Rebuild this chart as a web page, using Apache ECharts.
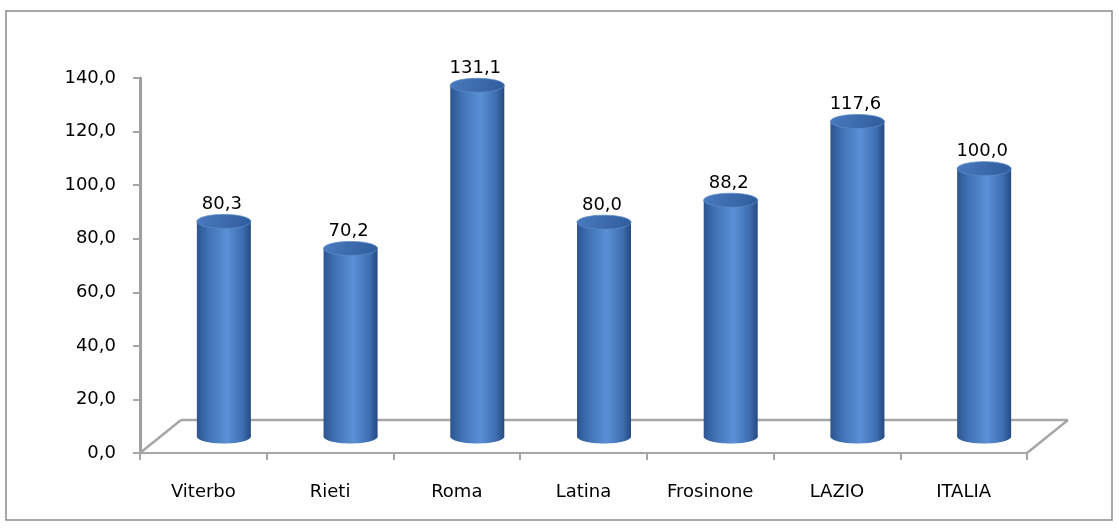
<!DOCTYPE html>
<html>
<head>
<meta charset="utf-8">
<script src="https://cdn.jsdelivr.net/npm/echarts@6/dist/echarts.min.js"></script>
<style>
  html, body { margin: 0; padding: 0; background: #fff; }
  #chart { width: 1119px; height: 529px; }
</style>
</head>
<body>
<div id="chart"></div>
<script>
const categories = ["Viterbo", "Rieti", "Roma", "Latina", "Frosinone", "LAZIO", "ITALIA"];
const values = [80.3, 70.2, 131.1, 80.0, 88.2, 117.6, 100.0];
const yTicks = [0, 20, 40, 60, 80, 100, 120, 140];

// finta profondità 3D (come nel grafico di Excel)
const depthX = 41;
const depthY = -33;
const barWidth = 54;
const capRy = 7;
const fontFamily = "'DejaVu Sans', sans-serif";
const fontSize = 18;

const fmt = (v) => v.toFixed(1).replace(".", ",");

const chart = echarts.init(document.getElementById("chart"));

const bodyGradient = new echarts.graphic.LinearGradient(0, 0, 1, 0, [
  { offset: 0, color: "#2c5590" },
  { offset: 0.2, color: "#3f70b3" },
  { offset: 0.55, color: "#5b90d6" },
  { offset: 0.85, color: "#3e6db0" },
  { offset: 1, color: "#254a80" },
]);
const topGradient = new echarts.graphic.LinearGradient(0, 0, 1, 1, [
  { offset: 0, color: "#4a7bc0" },
  { offset: 1, color: "#2f5b9a" },
]);

const option = {
  animation: false,
  graphic: [
    {
      type: "rect",
      shape: { x: 6, y: 11, width: 1106, height: 509 },
      style: { fill: "none", stroke: "#8c8c8c", lineWidth: 1.5 },
      z: -1,
    },
  ],
  grid: { left: 140, right: 92, top: 78, bottom: 76 },
  xAxis: {
    type: "category",
    data: categories,
    axisLine: { lineStyle: { color: "#a6a6a6", width: 2 } },
    axisTick: { show: true, length: 7, lineStyle: { color: "#a6a6a6", width: 2 } },
    axisLabel: { color: "#000", fontSize: fontSize, fontFamily: fontFamily, margin: 30 },
  },
  yAxis: {
    type: "value",
    min: 0,
    max: 140,
    interval: 20,
    splitLine: { show: false },
    axisLine: { show: true, lineStyle: { color: "#a0a0a0", width: 3 } },
    axisTick: { show: true, length: 7, lineStyle: { color: "#a6a6a6", width: 2 } },
    axisLabel: {
      color: "#000",
      fontSize: fontSize,
      fontFamily: fontFamily,
      margin: 24,
      formatter: (v) => (yTicks.includes(v) ? fmt(v) : ""),
    },
  },
  series: [
    {
      // pavimento 3D
      type: "custom",
      silent: true,
      z: 1,
      data: [[0]],
      renderItem: (params, api) => {
        const a = api.coord([0, 0]);
        const b = api.coord([categories.length - 1, 0]);
        const half = api.size([1, 0])[0] / 2;
        const x0 = a[0] - half;
        const x1 = b[0] + half;
        const y0 = a[1];
        const style = { stroke: "#a6a6a6", lineWidth: 2.5 };
        return {
          type: "group",
          children: [
            { type: "line", shape: { x1: x0, y1: y0, x2: x0 + depthX, y2: y0 + depthY }, style },
            { type: "line", shape: { x1: x0 + depthX, y1: y0 + depthY, x2: x1 + depthX, y2: y0 + depthY }, style },
            { type: "line", shape: { x1: x1, y1: y0, x2: x1 + depthX, y2: y0 + depthY }, style },
          ],
        };
      },
    },
    {
      type: "custom",
      z: 2,
      data: values.map((v, i) => [i, v]),
      renderItem: (params, api) => {
        const base = api.coord([api.value(0), 0]);
        const top = api.coord([api.value(0), api.value(1)]);
        const cx = base[0] + depthX / 2;
        const by = base[1] + depthY / 2;
        const ty = top[1] + depthY / 2;
        const rx = barWidth / 2;
        return {
          type: "group",
          children: [
            {
              type: "ellipse",
              shape: { cx: cx, cy: by, rx: rx, ry: capRy },
              style: { fill: bodyGradient },
            },
            {
              type: "rect",
              shape: { x: cx - rx, y: ty, width: barWidth, height: by - ty },
              style: { fill: bodyGradient },
            },
            {
              type: "ellipse",
              shape: { cx: cx, cy: ty, rx: rx, ry: capRy },
              style: { fill: topGradient, stroke: "#5b8bcc", lineWidth: 0.8 },
            },
            {
              type: "text",
              style: {
                x: cx - 2,
                y: ty - capRy - 1,
                text: fmt(api.value(1)),
                textAlign: "center",
                textVerticalAlign: "bottom",
                fill: "#000",
                fontSize: fontSize,
                fontFamily: fontFamily,
              },
            },
          ],
        };
      },
    },
  ],
};

chart.setOption(option);
</script>
</body>
</html>
